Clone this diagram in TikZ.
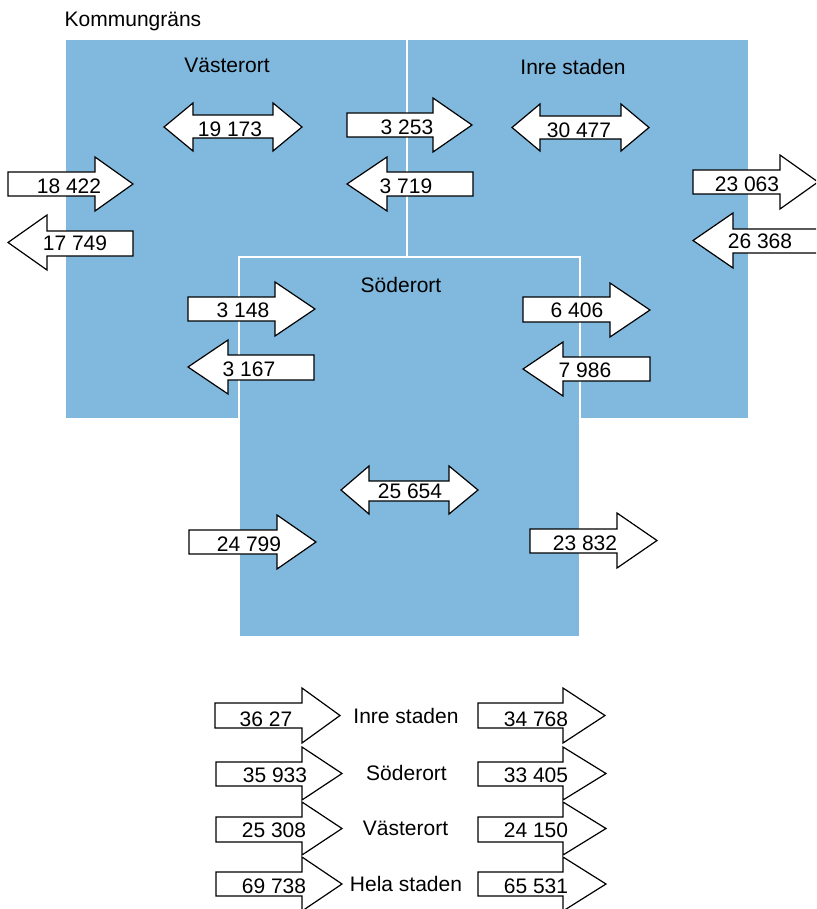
\documentclass[tikz,border=0pt]{standalone}
\usepackage{fontspec}
\setmainfont{Liberation Sans}
\definecolor{regionblue}{RGB}{128,185,221}
\tikzset{
  blockarr/.style={draw=black, fill=white, line width=1.2pt, line join=miter},
  numlbl/.style={inner sep=0pt, font=\fontsize{21}{24}\selectfont},
  namelbl/.style={inner sep=0pt, anchor=base, font=\fontsize{21}{24}\selectfont},
  divider/.style={draw=white, line width=2pt}
}
% right arrow: L, N, T, shaft top, shaft bottom, head top, head bottom
\newcommand{\RArr}[7]{\draw[blockarr] (#1,#4) -- (#2,#4) -- (#2,#6) -- (#3,{(#6+#7)/2}) -- (#2,#7) -- (#2,#5) -- (#1,#5) -- cycle;}
% left arrow: T, N, E, shaft top, shaft bottom, head top, head bottom
\newcommand{\LArr}[7]{\draw[blockarr] (#1,{(#6+#7)/2}) -- (#2,#6) -- (#2,#4) -- (#3,#4) -- (#3,#5) -- (#2,#5) -- (#2,#7) -- cycle;}
% double arrow: T1, N1, N2, T2, shaft top, shaft bottom, head top, head bottom
\newcommand{\DArr}[8]{\draw[blockarr] (#1,{(#7+#8)/2}) -- (#2,#7) -- (#2,#5) -- (#3,#5) -- (#3,#7) -- (#4,{(#7+#8)/2}) -- (#3,#8) -- (#3,#6) -- (#2,#6) -- (#2,#8) -- cycle;}
\begin{document}
\begin{tikzpicture}[x=1pt,y=-1pt]
\useasboundingbox (0,0) rectangle (816,909);
\clip (0,0) rectangle (816,909);
% regions
\fill[regionblue] (66,40) rectangle (748,418);
\draw[divider] (407,40) -- (407,257);
\draw[divider] (239,418) -- (239,257) -- (580,257) -- (580,418);
\fill[regionblue] (240,258) rectangle (579,636);

\node[namelbl, anchor=base west] (kommun) at (64.5,27) {Kommungräns};
\node[namelbl] (vast) at (227,73) {Västerort};
\node[namelbl] (inre) at (573,75) {Inre staden};
\node[namelbl] (soder) at (401,292) {Söderort};

% arrows in the map
\DArr{164}{193}{273}{302}{115}{138}{103}{151}
\node[numlbl] (n19173) at (230,129.5) {19 173};
\DArr{512}{540}{621}{649}{116}{139}{104}{151}
\node[numlbl] (n30477) at (579,130) {30 477};
\DArr{341}{369}{449}{478}{481}{501}{466}{514}
\node[numlbl] (n25654) at (410,491) {25 654};

\RArr{8}{95}{133}{172}{196}{157}{211}
\node[numlbl] (n18422) at (69,186) {18 422};
\LArr{8}{47}{133}{231}{256}{215}{270}
\node[numlbl] (n17749) at (75,243) {17 749};

\RArr{347}{433}{472}{113}{137}{98}{152}
\node[numlbl] (n3253) at (407,127) {3 253};
\LArr{347}{387}{473}{172}{196}{157}{211}
\node[numlbl] (n3719) at (406,186) {3 719};

\RArr{693}{780}{818}{170}{194}{155}{209}
\node[numlbl] (n23063) at (747,184) {23 063};
\LArr{693}{733}{830}{229}{253}{213}{268}
\node[numlbl] (n26368) at (760,241) {26 368};

\RArr{188}{275}{315}{297}{321}{282}{336}
\node[numlbl] (n3148) at (243,310) {3 148};
\LArr{188}{228}{314}{355}{380}{340}{394}
\node[numlbl] (n3167) at (249,369) {3 167};

\RArr{523}{610}{650}{297}{322}{283}{337}
\node[numlbl] (n6406) at (577,310) {6 406};
\LArr{523}{563}{650}{357}{381}{342}{396}
\node[numlbl] (n7986) at (585,370) {7 986};

\RArr{189}{277}{316}{530}{554}{515}{569}
\node[numlbl] (n24799) at (249,544) {24 799};
\RArr{530}{617}{657}{529}{553}{513}{568}
\node[numlbl] (n23832) at (585,543) {23 832};

% legend
\RArr{215}{302}{340}{703}{728}{688}{743}
\RArr{216}{302}{342}{762}{786}{747}{800}
\RArr{216}{302}{342}{817}{842}{802}{855}
\RArr{216}{302}{342}{872}{896}{857}{911}
\RArr{478}{563}{605}{703}{728}{688}{743}
\RArr{478}{563}{606}{762}{786}{747}{800}
\RArr{478}{563}{606}{817}{842}{802}{855}
\RArr{478}{563}{606}{872}{896}{857}{911}

\node[numlbl] (l1in) at (266,719) {36 27};
\node[numlbl] (l2in) at (275,775) {35 933};
\node[numlbl] (l3in) at (274,830) {25 308};
\node[numlbl] (l4in) at (274,886) {69 738};
\node[numlbl] (l1out) at (536,719) {34 768};
\node[numlbl] (l2out) at (536,775) {33 405};
\node[numlbl] (l3out) at (536,830) {24 150};
\node[numlbl] (l4out) at (536,886) {65 531};

\node[namelbl] (leginre) at (406,723) {Inre staden};
\node[namelbl] (legsoder) at (406.5,780) {Söderort};
\node[namelbl] (legvast) at (405.5,835) {Västerort};
\node[namelbl] (leghela) at (406,891) {Hela staden};
\end{tikzpicture}
\end{document}
